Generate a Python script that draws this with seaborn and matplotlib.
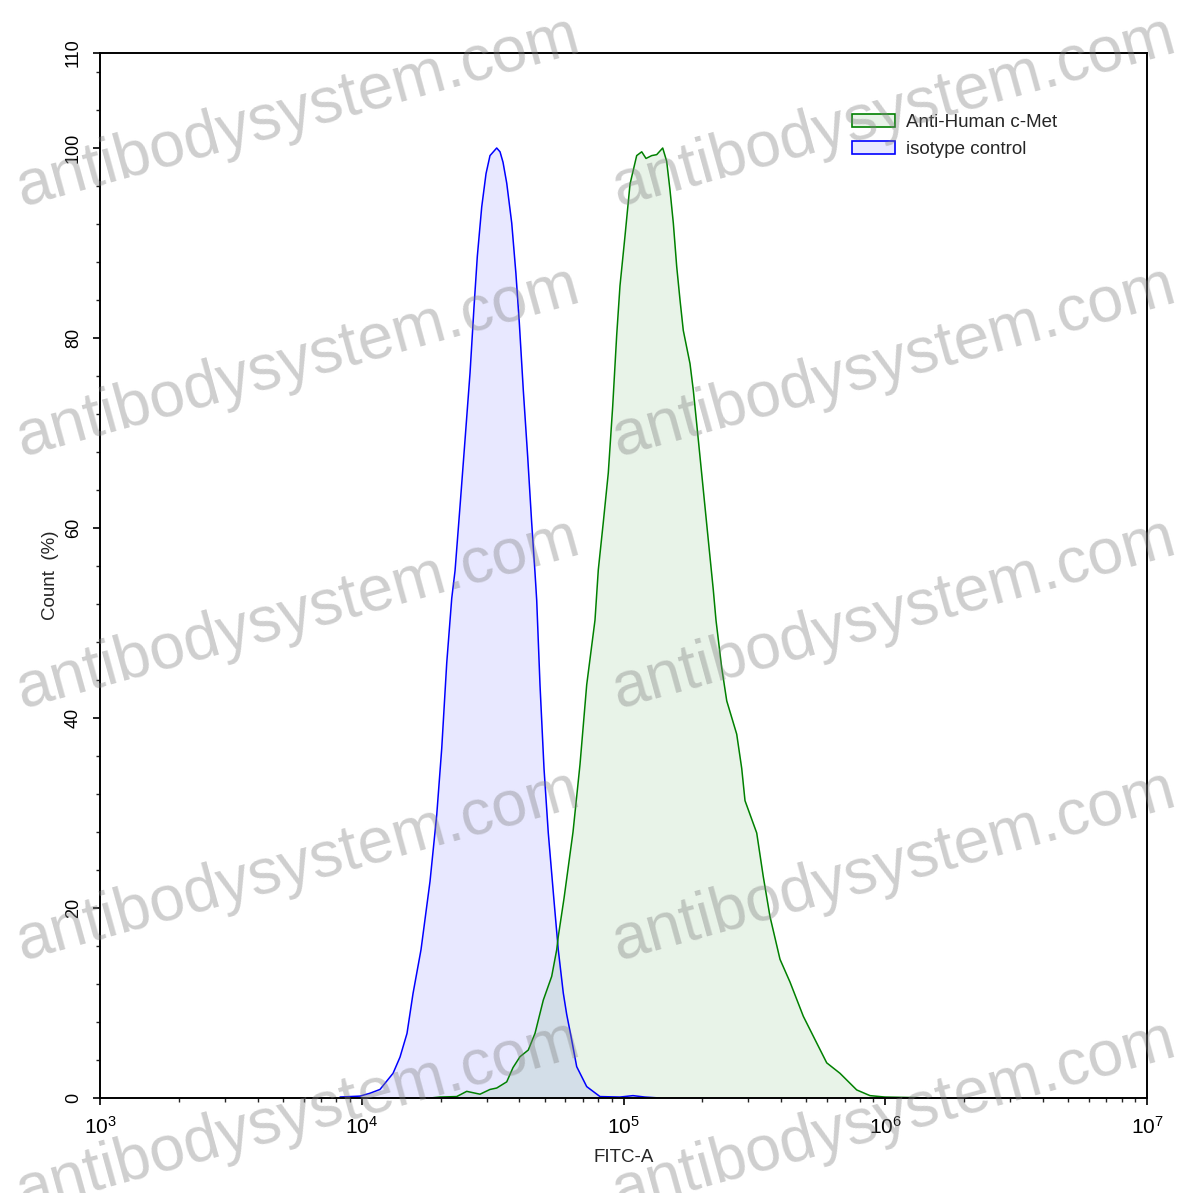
import numpy as np
import pandas as pd
import matplotlib
matplotlib.use("Agg")
import matplotlib.pyplot as plt
import seaborn as sns
from matplotlib.patches import Patch
from matplotlib.ticker import LogLocator, MultipleLocator, FixedLocator

# isotype control histogram (FITC-A, % of max)
iso_fitc = [8260, 9850, 10750, 11740, 13170, 14000, 14890, 15700, 16840, 18230,
            19340, 20210, 21120, 22070, 22720, 23740, 24810, 25920, 26850, 27640,
            28730, 29840, 30900, 32780, 33750, 34650, 35800, 37410, 38810, 39990,
            41420, 43050, 44600, 45910, 46600, 47970, 49690, 51600, 54250, 56340,
            58880, 60670, 63010, 66250, 72350, 81330, 96960, 108700, 120800, 137800]
iso_count = [0.1, 0.2, 0.5, 0.9, 2.6, 4.3, 6.8, 11.0, 15.6, 22.8,
             29.8, 36.8, 45.8, 52.6, 55.5, 62.3, 69.3, 76.3, 83.3, 88.6,
             93.8, 97.3, 99.2, 100.0, 99.6, 98.5, 96.3, 92.1, 86.8, 81.6,
             74.5, 67.5, 60.5, 55.3, 52.4, 43.5, 34.7, 27.9, 20.8, 15.6,
             11.05, 8.8, 6.5, 3.3, 1.2, 0.15, 0.1, 0.25, 0.1, 0.0]

# Anti-Human c-Met histogram
met_fitc = [18230, 19910, 23050, 25180, 28300, 30900, 32780, 35800, 37830, 40240,
            43280, 45910, 49380, 53170, 55560, 56340, 59250, 64140, 68200, 72350,
            77820, 80120, 83720, 87480, 90930, 94190, 96960, 101300, 105900, 112300,
            117400, 121900, 128200, 133900, 141200, 146200, 150500, 155000, 159700, 164400,
            169200, 179500, 184800, 193100, 201800, 210900, 220300, 225600, 237200, 248000,
            270700, 282900, 291200, 322800, 342000, 362800, 396200, 432700, 486400, 539000,
            597600, 671500, 777900, 874500, 997700, 1243000, 1483000]
met_count = [0.0, 0.1, 0.15, 0.7, 0.4, 0.9, 1.05, 1.7, 3.2, 4.35,
             5.05, 6.8, 10.3, 12.8, 15.6, 17.0, 21.0, 28.0, 35.1, 43.5,
             50.3, 55.6, 60.6, 65.8, 72.8, 80.3, 85.5, 90.7, 96.2, 99.2,
             99.6, 98.9, 99.2, 99.3, 100.0, 98.6, 95.6, 92.1, 87.5, 84.0,
             80.8, 77.3, 74.5, 69.3, 64.0, 58.7, 53.5, 50.3, 45.3, 41.8,
             38.3, 34.7, 31.3, 27.9, 23.3, 19.1, 14.6, 12.2, 8.6, 6.15,
             3.7, 2.6, 0.85, 0.25, 0.1, 0.05, 0.0]

y_ticks = [0, 20, 40, 60, 80, 100, 110]
watermark_rows = [112, 362, 614, 866, 1116]
watermark_cols = [298, 894]

sns.set_style("ticks")
plt.rcParams["font.family"] = ["Liberation Sans", "DejaVu Sans"]
plt.rcParams["mathtext.fontset"] = "custom"
plt.rcParams["mathtext.rm"] = "Liberation Sans"

W, H = 1197, 1193
fig = plt.figure(figsize=(W / 100, H / 100), dpi=100)
ax = fig.add_axes([100 / W, 1 - 1098 / H, 1047 / W, 1045 / H])

iso_df = pd.DataFrame({"fitc": iso_fitc, "count": iso_count})
met_df = pd.DataFrame({"fitc": met_fitc, "count": met_count})

ax.fill_between(iso_df["fitc"], iso_df["count"], color="blue", alpha=0.09, lw=0)
ax.fill_between(met_df["fitc"], met_df["count"], color="green", alpha=0.09, lw=0)
sns.lineplot(data=iso_df, x="fitc", y="count", color="blue", lw=1.1,
             estimator=None, sort=False, ax=ax)
sns.lineplot(data=met_df, x="fitc", y="count", color="green", lw=1.1,
             estimator=None, sort=False, ax=ax)

ax.set_xscale("log")
ax.set_xlim(1e3, 1e7)
ax.set_ylim(0, 110)
ax.xaxis.set_major_locator(LogLocator(base=10, numticks=10))
ax.xaxis.set_minor_locator(LogLocator(base=10, subs=np.arange(2, 10), numticks=20))
ax.yaxis.set_major_locator(FixedLocator(y_ticks))
ax.yaxis.set_minor_locator(MultipleLocator(4))

for s in ax.spines.values():
    s.set_linewidth(1.4)
    s.set_color("black")
ax.tick_params(which="major", length=5, width=1.2, colors="black")
ax.tick_params(which="minor", length=3, width=1.0)
ax.tick_params(axis="x", which="major", labelsize=15, pad=8)
ax.tick_params(axis="y", which="major", labelsize=13, pad=8)
for lbl in ax.get_yticklabels():
    lbl.set_rotation(90)
    lbl.set_va("center")

ax.set_xlabel("FITC-A", fontsize=13.5, labelpad=8)
ax.set_ylabel("Count  (%)", fontsize=13.5, labelpad=4)

handles = [
    Patch(facecolor=(0, 0.5, 0, 0.09), edgecolor="green", lw=1.2, label="Anti-Human c-Met"),
    Patch(facecolor=(0, 0, 1, 0.09), edgecolor="blue", lw=1.2, label="isotype control"),
]
ax.legend(handles=handles, loc="upper left", bbox_to_anchor=(0.711, 0.949),
          frameon=False, fontsize=13.5, handlelength=2.3, handleheight=0.7,
          handletextpad=0.6, labelspacing=0.55, borderaxespad=0)

for cy in watermark_rows:
    for cx in watermark_cols:
        fig.text(cx / W, 1 - cy / H, "antibodysystem.com", fontsize=46,
                 color="0.5", alpha=0.38, rotation=15.5, ha="center", va="center",
                 rotation_mode="anchor", zorder=10)

fig.savefig("out.png", dpi=100)
